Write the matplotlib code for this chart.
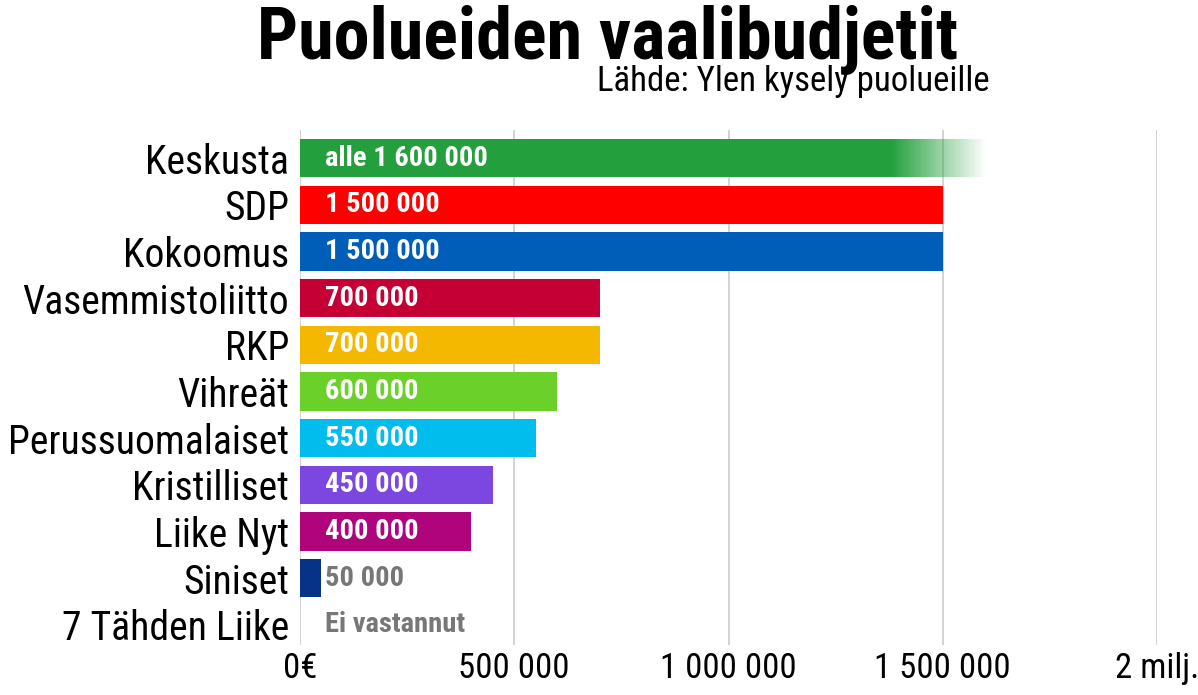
import matplotlib
matplotlib.use("Agg")
import matplotlib.pyplot as plt
from matplotlib import font_manager as fm
import numpy as np

parties = ["Keskusta","SDP","Kokoomus","Vasemmistoliitto","RKP","Vihreät",
           "Perussuomalaiset","Kristilliset","Liike Nyt","Siniset","7 Tähden Liike"]
values = [1600000,1500000,1500000,700000,700000,600000,550000,450000,400000,50000,0]
labels = ["alle 1 600 000","1 500 000","1 500 000","700 000","700 000","600 000",
          "550 000","450 000","400 000","50 000","Ei vastannut"]
colors = ["#23a03d","#ff0000","#005eb8","#c50035","#f5b800","#6bd12a",
          "#00bdee","#7b47e0","#b0047d","#063385","#ffffff"]
xticks = [0,500000,1000000,1500000,2000000]
xticklabels = ["0€","500 000","1 000 000","1 500 000","2 milj."]
fade_start = 1380000

names = {f.name for f in fm.fontManager.ttflist}
fam = next((f for f in ["Roboto Condensed","Liberation Sans Narrow","Roboto"] if f in names), "DejaVu Sans")
plt.rcParams["font.family"] = fam

fig = plt.figure(figsize=(11.98,6.95), dpi=100)
ax = fig.add_axes([300/1198, 1-645/695, 857/1198, 515/695])
y = np.arange(len(parties))
for i,(v,c) in enumerate(zip(values,colors)):
    if i == 0:
        ax.barh(i, fade_start, color=c, height=0.82, zorder=2)
        n = 40
        edges = np.linspace(fade_start, v, n+1)
        for k in range(n):
            ax.barh(i, edges[k+1]-edges[k], left=edges[k], color=c, height=0.82,
                    alpha=1-(k+0.5)/n, linewidth=0, zorder=2)
    else:
        ax.barh(i, v, color=c, height=0.82, zorder=2)
    tc = "white" if v > 100000 else "#777777"
    ax.text(58000, i, labels[i], color=tc, fontsize=20.5, fontweight="bold",
            va="center", ha="left", zorder=3)
ax.set_ylim(10.43, -0.6)
ax.set_xlim(0, 2000000)
ax.set_yticks(y)
ax.set_yticklabels(parties, fontsize=28.5)
ax.set_xticks(xticks)
ax.set_xticklabels(xticklabels, fontsize=25)
ax.tick_params(length=0, pad=8)
ax.tick_params(axis="x", pad=5)
ax.grid(axis="x", color="#cccccc", linewidth=1.2, zorder=0)
for s in ax.spines.values():
    s.set_visible(False)
fig.text(0.507, 0.942, "Puolueiden vaalibudjetit", fontsize=52, fontweight="bold",
         ha="center", va="center")
fig.text(0.826, 0.883, "Lähde: Ylen kysely puolueille", fontsize=25, ha="right", va="center")
fig.savefig("out.png", dpi=100)
